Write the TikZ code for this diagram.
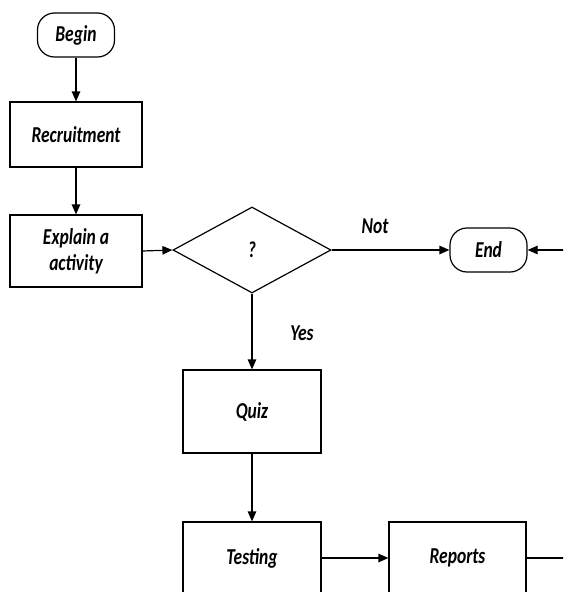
\documentclass[tikz,border=0pt]{standalone}
\usepackage{graphicx}
\usepackage{fontspec}
\setmainfont{Carlito}
\usetikzlibrary{arrows.meta,shapes.geometric}
\newcommand{\stx}[1]{\scalebox{1}[1.3]{#1}}
\begin{document}
\begin{tikzpicture}[x=1pt,y=-1pt,
  every node/.style={font=\fontsize{17.5}{19}\selectfont\bfseries\itshape},
  line/.style={line width=1.2pt},
  arr/.style={line width=1.2pt,-{Triangle[length=10pt,width=8.5pt]}},
  box/.style={draw,line width=1.2pt,rectangle,inner sep=0pt,align=center},
  term/.style={draw,line width=1.2pt,rectangle,rounded corners=17pt,minimum width=77pt,minimum height=44pt,inner sep=0pt},
  decision/.style={draw,line width=1.2pt,diamond,inner sep=0pt,minimum width=158pt,minimum height=86pt,aspect=1.84}]
\clip (0,0) rectangle (563,592);
\fill[white] (0,0) rectangle (563,592);
\node[term] (begin) at (76,35) {\stx{Begin}};
\node[box,minimum width=132pt,minimum height=65pt] (recr) at (76,134.5) {\stx{Recruitment}};
\node[box,minimum width=132pt,minimum height=72pt] (expl) at (76,251) {};
\node at (76,238.5) {\stx{Explain a}};
\node at (76,264.5) {\stx{activity}};
\node[decision] (dec) at (252,250) {\stx{?}};
\node[term] (end) at (488.5,250) {\stx{End}};
\node[box,minimum width=138pt,minimum height=83pt] (quiz) at (252,411.5) {\stx{Quiz}};
\node[box,minimum width=138pt,minimum height=76pt] (test) at (252,560) {};
\node at (252,558) {\stx{Testing}};
\node[box,minimum width=137pt,minimum height=76pt] (rep) at (457.5,560) {};
\node at (457.5,558) {\stx{Reports}};
\node (not) at (375,226) {\stx{Not}};
\node (yes) at (302,333) {\stx{Yes}};
\coordinate (rin) at (570,250);
\coordinate (rout) at (570,558);
\draw[arr] (begin) -- (recr);
\draw[arr] (recr) -- (expl);
\draw[arr] (expl.east) -- (dec.west);
\draw[arr] (dec.east) -- (end.west);
\draw[arr] (rin) -- (end.east);
\draw[arr] (dec.south) -- (quiz.north);
\draw[arr] (quiz) -- (test);
\draw[arr] (test.east |- rout) -- (rep.west |- rout);
\draw[line] (rep.east |- rout) -- (rout);
\end{tikzpicture}
\end{document}
